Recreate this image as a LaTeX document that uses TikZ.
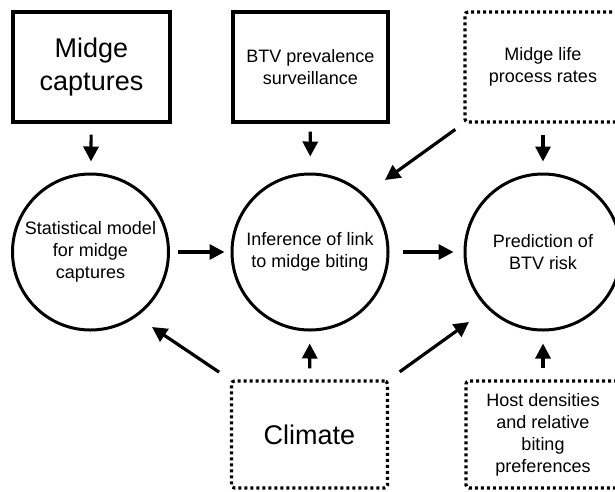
\documentclass[tikz,border=0pt]{standalone}
\usepackage{fontspec}
\setmainfont{Liberation Sans}
\usetikzlibrary{arrows.meta}
\tikzset{
  solidbox/.style={draw, line width=3.4pt, rectangle, inner sep=0pt, align=center},
  dotbox/.style={draw, line width=3.2pt, dash pattern=on 3pt off 3pt, rounded corners=3pt, rectangle, inner sep=0pt, align=center},
  ring/.style={draw, line width=3pt, circle, inner sep=0pt, minimum size=156pt, align=center},
  small/.style={font=\fontsize{18}{22}\selectfont},
  large/.style={font=\fontsize{27}{33}\selectfont},
  arr/.style={line width=3.2pt, -{Triangle[width=15pt,length=15pt]}},
}
\begin{document}
\begin{tikzpicture}[x=1pt,y=-1pt]
\useasboundingbox (0,0) rectangle (615,491);
\clip (0,0) rectangle (615,491);
% top row
\node[solidbox, large, minimum width=157pt, minimum height=110pt] (b1) at (91.5,67) {Midge\\captures};
\node[solidbox, small, minimum width=155pt, minimum height=110pt] (b2) at (310.5,67) {BTV prevalence\\surveillance};
\node[dotbox, small, minimum width=156pt, minimum height=110pt] (b3) at (543,67) {Midge life\\process rates};
% middle row
\node[ring, small] (c1) at (90.5,252) {Statistical model\\for midge\\captures};
\node[ring, small] (c2) at (310,252) {Inference of link\\to midge biting};
\node[ring, small] (c3) at (543,252) {Prediction of\\BTV risk};
% bottom row
\node[dotbox, large, minimum width=156pt, minimum height=107pt] (cl) at (309.5,434.5) {Climate};
\node[dotbox, small, minimum width=154pt, minimum height=107pt] (ho) at (543,434.5) {Host densities\\and relative\\biting\\preferences};
% tips of diagonal arrows
\coordinate (t1) at (385,180);
\coordinate (t2) at (152,327);
\coordinate (t3) at (469,322);
% arrows
\draw[arr, shorten <=11pt, shorten >=11pt] (b1) -- (c1);
\draw[arr, shorten <=8pt, shorten >=16pt] (b2) -- (c2);
\draw[arr, shorten <=11pt, shorten >=11pt] (b3) -- (c3);
\draw[arr, shorten <=8pt, shorten >=6pt] (c1) -- (c2);
\draw[arr, shorten <=13pt, shorten >=10pt] (c2) -- (c3);
\draw[arr, shorten <=10pt] (b3.south west) -- (t1);
\draw[arr, shorten <=13pt] (cl.north west) -- (t2);
\draw[arr, shorten <=13pt] (cl.north east) -- (t3);
\draw[arr, shorten <=11pt, shorten >=12pt] (cl) -- (c2);
\draw[arr, shorten <=11pt, shorten >=12pt] (ho) -- (c3);
\end{tikzpicture}
\end{document}
